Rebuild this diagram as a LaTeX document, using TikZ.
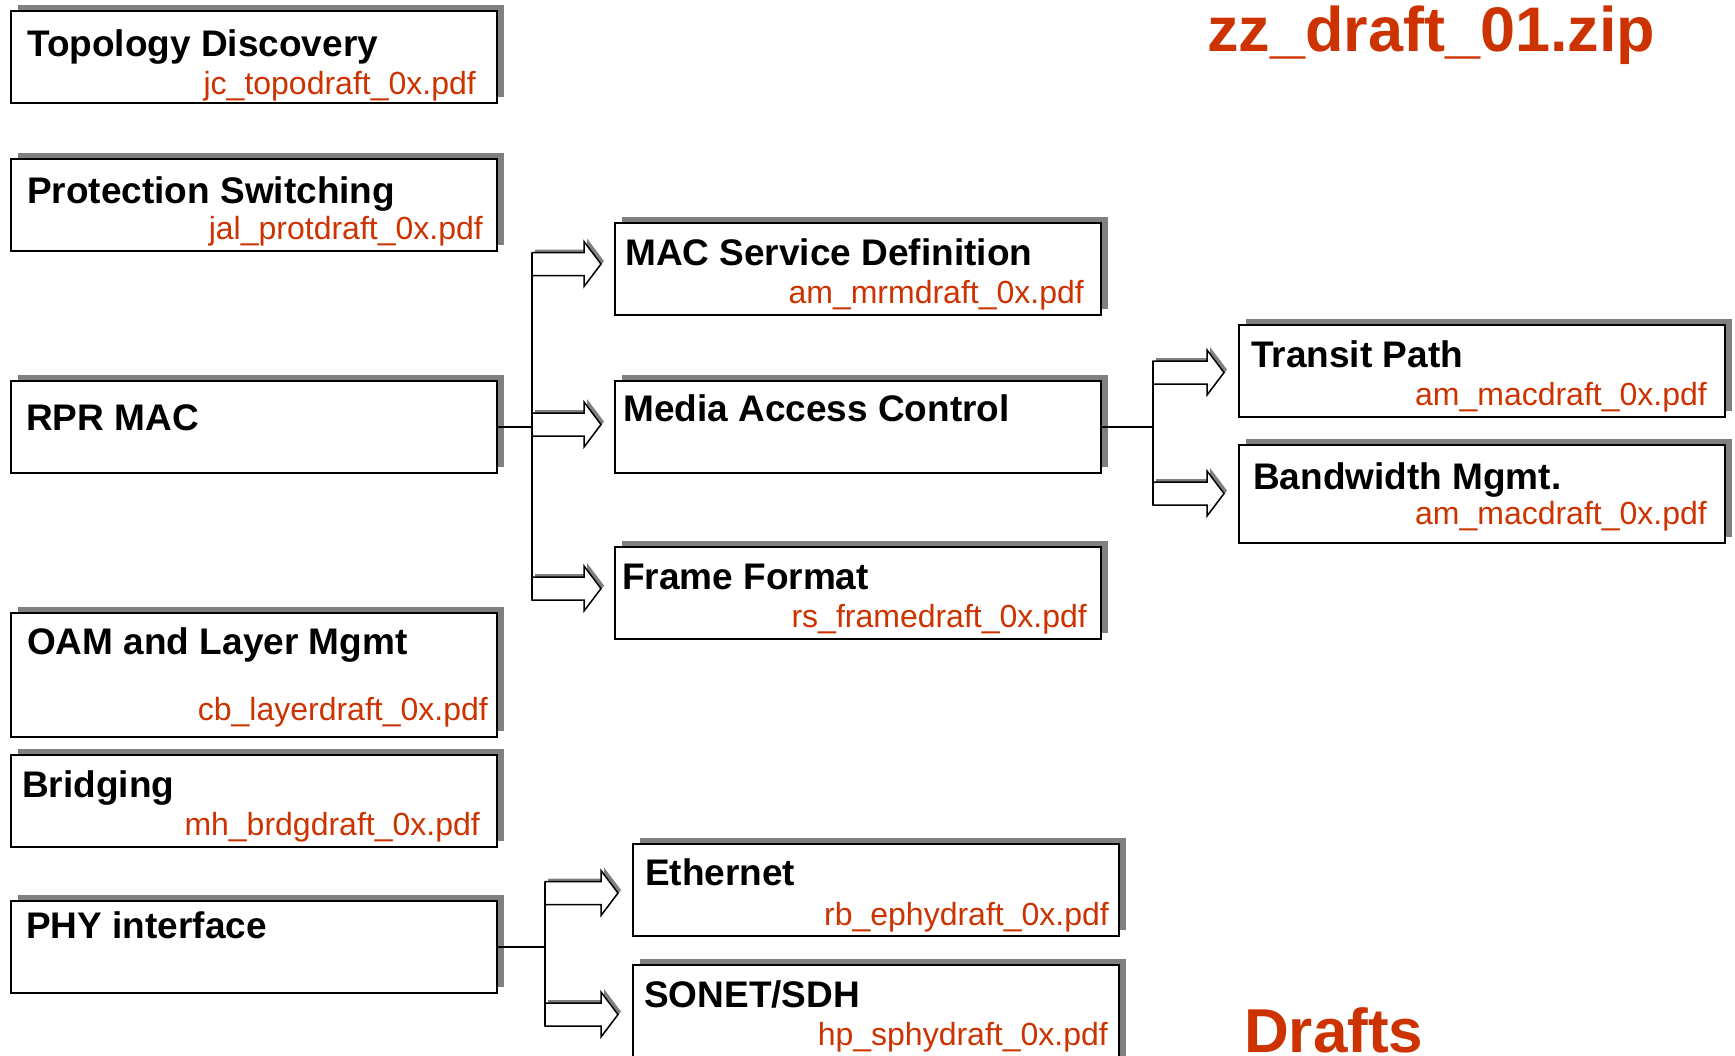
\documentclass[tikz,border=0pt]{standalone}
\usepackage{fontspec}
\setmainfont{Liberation Sans}
\usetikzlibrary{shadows}

\definecolor{draftred}{RGB}{204,51,0}
\definecolor{shadegray}{RGB}{128,128,128}

% fat arrow leaving the bus point #1, shaft length #2
\newcommand{\fatarrow}[2]{%
	\fill [shadegray] ([shift={(3,-3)}]#1) ++(0,-11.5) -- ++(#2,0) -- ++(0,-11) -- ++(17,22.5) -- ++(-17,22.5) -- ++(0,-11) -- ++(-#2,0) -- cycle;
	\draw [conn, fill = white] (#1) ++(0,-11.5) -- ++(#2,0) -- ++(0,-11) -- ++(17,22.5) -- ++(-17,22.5) -- ++(0,-11) -- ++(-#2,0) -- cycle;
}

\begin{document}
\begin{tikzpicture}[
		x=1pt, y=-1pt,
		box/.style = {draw, line width=1.6pt, fill=white, inner sep=0pt, minimum width=486pt, minimum height=92pt, anchor=north west, general shadow={fill=shadegray, shadow xshift=7.5pt, shadow yshift=6pt}},
		boxtitle/.style = {anchor=base west, inner sep=0pt, font=\fontsize{37}{40}\selectfont\bfseries},
		fname/.style = {anchor=base east, inner sep=0pt, text=draftred, font=\fontsize{32}{36}\selectfont},
		banner/.style = {anchor=base west, inner sep=0pt, text=draftred, font=\fontsize{63}{70}\selectfont\bfseries},
		conn/.style = {line width=1.5pt}
	]

		\useasboundingbox (0,0) rectangle (1735,1055);

		% Left column
		\node [box] (topo) at (10,10) {};
		\node [box] (prot) at (10,158) {};
		\node [box] (rpr) at (10,380) {};
		\node [box, minimum height=124pt] (oam) at (10,612) {};
		\node [box] (brdg) at (10,754) {};
		\node [box] (phy) at (10,900) {};

		\node [boxtitle] (topo-t) at (27,56) {Topology Discovery};
		\node [fname] (topo-f) at (476,94) {jc\_topodraft\_0x.pdf};
		\node [boxtitle] (prot-t) at (27,203) {Protection Switching};
		\node [fname] (prot-f) at (483,239) {jal\_protdraft\_0x.pdf};
		\node [boxtitle] (rpr-t) at (26,430) {RPR MAC};
		\node [boxtitle] (oam-t) at (27,654) {OAM and Layer Mgmt};
		\node [fname] (oam-f) at (488,720) {cb\_layerdraft\_0x.pdf};
		\node [boxtitle] (brdg-t) at (22,797) {Bridging};
		\node [fname] (brdg-f) at (480,835) {mh\_brdgdraft\_0x.pdf};
		\node [boxtitle] (phy-t) at (26,938) {PHY interface};

		% MAC sublayers
		\node [box] (msd) at (614,222) {};
		\node [box] (mac) at (614,380) {};
		\node [box] (frame) at (614,546) {};

		\node [boxtitle] (msd-t) at (625,265) {MAC Service Definition};
		\node [fname] (msd-f) at (1084,303) {am\_mrmdraft\_0x.pdf};
		\node [boxtitle] (mac-t) at (623,421) {Media Access Control};
		\node [boxtitle] (frame-t) at (622,589) {Frame Format};
		\node [fname] (frame-f) at (1087,627) {rs\_framedraft\_0x.pdf};

		% MAC parts
		\node [box] (transit) at (1238,324) {};
		\node [box, minimum height=98pt] (bw) at (1238,444) {};

		\node [boxtitle] (transit-t) at (1251,367) {Transit Path};
		\node [fname] (transit-f) at (1707,405) {am\_macdraft\_0x.pdf};
		\node [boxtitle] (bw-t) at (1253,489) {Bandwidth Mgmt.};
		\node [fname] (bw-f) at (1707,524) {am\_macdraft\_0x.pdf};

		% PHY types
		\node [box] (eth) at (632,843) {};
		\node [box, minimum height=100pt] (sonet) at (632,964) {};

		\node [boxtitle] (eth-t) at (645,885) {Ethernet};
		\node [fname] (eth-f) at (1109,925) {rb\_ephydraft\_0x.pdf};
		\node [boxtitle] (sonet-t) at (644,1007) {SONET/SDH};
		\node [fname] (sonet-f) at (1108,1045) {hp\_sphydraft\_0x.pdf};

		% banners
		\node [banner] (zip) at (1207,51) {zz\_draft\_01.zip};
		\node [banner, font=\fontsize{62}{70}\selectfont\bfseries] (drafts) at (1244,1052) {Drafts};

		% RPR MAC to sublayers
		\coordinate (a1) at (532,264);
		\coordinate (a2) at (532,424.5);
		\coordinate (a3) at (532,588.5);
		\draw [conn] (rpr) -- (rpr -| a2);
		\draw [conn] ([yshift=11.5pt]a1) -- ([yshift=-11.5pt]a3);
		\fatarrow{a1}{52}
		\fatarrow{a2}{52}
		\fatarrow{a3}{52}

		% MAC to parts
		\coordinate (b1) at (1153,372.5);
		\coordinate (b2) at (1153,493.5);
		\draw [conn] (mac) -- (mac -| b1);
		\draw [conn] ([yshift=11.5pt]b1) -- ([yshift=-11.5pt]b2);
		\fatarrow{b1}{54}
		\fatarrow{b2}{54}

		% PHY to types
		\coordinate (c1) at (545,893);
		\coordinate (c2) at (545,1014.5);
		\draw [conn] (phy) -- (phy -| c1);
		\draw [conn] ([yshift=11.5pt]c1) -- ([yshift=-11.5pt]c2);
		\fatarrow{c1}{56}
		\fatarrow{c2}{56}
	\end{tikzpicture}
\end{document}
